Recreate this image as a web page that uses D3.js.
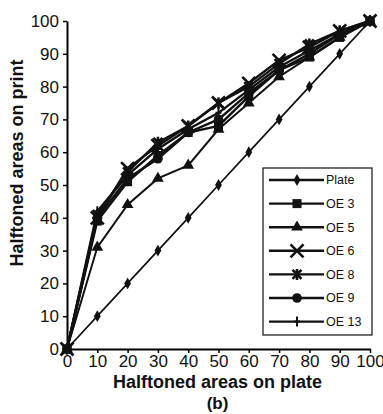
<!DOCTYPE html>
<html>
<head>
<meta charset="utf-8">
<script src="https://cdn.jsdelivr.net/npm/d3@7"></script>
<style>
  body { margin: 0; background: #fff; }
  svg text { font-family: "Liberation Sans", Arial, sans-serif; }
</style>
</head>
<body>
<svg id="chart" width="383" height="414"></svg>
<script>
// data
const xValues = [0, 10, 20, 30, 40, 50, 60, 70, 80, 90, 100];
const plate = [0, 10, 20, 30, 40, 50, 60, 70, 80, 90, 100];
const oe3 = [0, 39, 51, 59, 66, 68, 77, 85, 89, 95, 100];
const oe5 = [0, 31, 44, 52, 56, 67, 75, 83, 89, 95, 100];
const oe6 = [0, 40, 55, 62, 68, 75, 81, 88, 92, 97, 100];
const oe8 = [0, 41, 54, 63, 68, 75, 80, 87, 93, 97, 100];
const oe9 = [0, 40, 52, 58, 66, 70, 78, 85, 90, 96, 100];
const oe13 = [0, 42, 53, 61, 67, 72, 79, 86, 91, 96, 100];
const seriesNames = ['Plate', 'OE 3', 'OE 5', 'OE 6', 'OE 8', 'OE 9', 'OE 13'];
const tickValues = [0, 10, 20, 30, 40, 50, 60, 70, 80, 90, 100];

const series = [
  {name: seriesNames[0], values: plate, marker: 'diamond', width: 1.7},
  {name: seriesNames[1], values: oe3, marker: 'square', width: 2.4},
  {name: seriesNames[2], values: oe5, marker: 'triangle', width: 2},
  {name: seriesNames[3], values: oe6, marker: 'x', width: 2.4},
  {name: seriesNames[4], values: oe8, marker: 'star', width: 2.4},
  {name: seriesNames[5], values: oe9, marker: 'circle', width: 2.4},
  {name: seriesNames[6], values: oe13, marker: 'plus', width: 2.4}
];

const margin = {top: 21, right: 13, bottom: 65, left: 67};
const width = 383 - margin.left - margin.right;
const height = 414 - margin.top - margin.bottom;

const svg = d3.select('#chart')
  .append('g')
  .attr('transform', 'translate(' + margin.left + ',' + margin.top + ')');

const x = d3.scaleLinear().domain([0, 100]).range([0, width]);
const y = d3.scaleLinear().domain([0, 100]).range([height, 0]);

// axes
svg.append('g')
  .attr('transform', 'translate(0,' + height + ')')
  .call(d3.axisBottom(x).tickValues(tickValues).tickSize(4).tickSizeOuter(0))
  .call(g => g.select('.domain').attr('stroke-width', 2))
  .call(g => g.selectAll('.tick line').attr('stroke-width', 1.5))
  .call(g => g.selectAll('text').attr('font-size', 17).attr('fill', '#111').attr('y', 6));

svg.append('g')
  .call(d3.axisLeft(y).tickValues(tickValues).tickSize(4).tickSizeOuter(0))
  .call(g => g.select('.domain').attr('stroke-width', 2))
  .call(g => g.selectAll('.tick line').attr('stroke-width', 1.5))
  .call(g => g.selectAll('text').attr('font-size', 17).attr('fill', '#111').attr('x', -8));

// marker shapes
function drawMarker(g, type, cx, cy) {
  const c = '#111';
  if (type === 'diamond') {
    g.append('path').attr('d', d3.symbol(d3.symbolDiamond, 40)()).attr('transform', `translate(${cx},${cy})`).attr('fill', c);
  } else if (type === 'square') {
    g.append('rect').attr('x', cx - 4.5).attr('y', cy - 4.5).attr('width', 9).attr('height', 9).attr('fill', c);
  } else if (type === 'triangle') {
    g.append('path').attr('d', d3.symbol(d3.symbolTriangle, 60)()).attr('transform', `translate(${cx},${cy})`).attr('fill', c);
  } else if (type === 'circle') {
    g.append('circle').attr('cx', cx).attr('cy', cy).attr('r', 4.8).attr('fill', c);
  } else if (type === 'x') {
    g.append('path').attr('d', `M${cx - 6.5},${cy - 6.5}L${cx + 6.5},${cy + 6.5}M${cx - 6.5},${cy + 6.5}L${cx + 6.5},${cy - 6.5}`)
      .attr('stroke', c).attr('stroke-width', 2.6);
  } else if (type === 'star') {
    g.append('path').attr('d', `M${cx - 4.5},${cy - 4.5}L${cx + 4.5},${cy + 4.5}M${cx - 4.5},${cy + 4.5}L${cx + 4.5},${cy - 4.5}M${cx},${cy - 5.5}L${cx},${cy + 5.5}`)
      .attr('stroke', c).attr('stroke-width', 2.6);
  } else if (type === 'plus') {
    g.append('path').attr('d', `M${cx},${cy - 5}L${cx},${cy + 5}M${cx - 3},${cy}L${cx + 3},${cy}`)
      .attr('stroke', c).attr('stroke-width', 2);
  }
}

const line = d3.line().x((d, i) => x(xValues[i])).y(d => y(d));

// series lines and markers
series.forEach(s => {
  const g = svg.append('g');
  g.append('path')
    .datum(s.values)
    .attr('d', line)
    .attr('fill', 'none')
    .attr('stroke', '#111')
    .attr('stroke-width', s.width);
  s.values.forEach((v, i) => drawMarker(g, s.marker, x(xValues[i]), y(v)));
});

// legend
const legend = svg.append('g').attr('transform', 'translate(' + (263 - margin.left) + ',' + (168 - margin.top) + ')');
legend.append('rect')
  .attr('width', 109).attr('height', 167)
  .attr('fill', '#fff').attr('stroke', '#111').attr('stroke-width', 1.2);
series.forEach((s, i) => {
  const ly = 12 + i * 23.6;
  legend.append('line')
    .attr('x1', 6).attr('x2', 61).attr('y1', ly).attr('y2', ly)
    .attr('stroke', '#111').attr('stroke-width', 2.4);
  drawMarker(legend, s.marker, 34, ly);
  legend.append('text')
    .attr('x', 63).attr('y', ly).attr('dy', '0.35em')
    .attr('font-size', 12.5).attr('fill', '#111')
    .text(s.name);
});

// axis titles
svg.append('text')
  .attr('x', width / 2 - 1).attr('y', height + 39)
  .attr('text-anchor', 'middle')
  .attr('font-size', 18).attr('font-weight', 'bold').attr('fill', '#111')
  .text('Halftoned areas on plate');

svg.append('text')
  .attr('x', width / 2 - 1).attr('y', height + 60)
  .attr('text-anchor', 'middle')
  .attr('font-size', 17).attr('font-weight', 'bold').attr('fill', '#111')
  .text('(b)');

svg.append('text')
  .attr('transform', 'rotate(-90)')
  .attr('x', -height / 2 + 22).attr('y', -44)
  .attr('text-anchor', 'middle')
  .attr('font-size', 18).attr('font-weight', 'bold').attr('fill', '#111')
  .text('Halftoned areas on print');
</script>
</body>
</html>
